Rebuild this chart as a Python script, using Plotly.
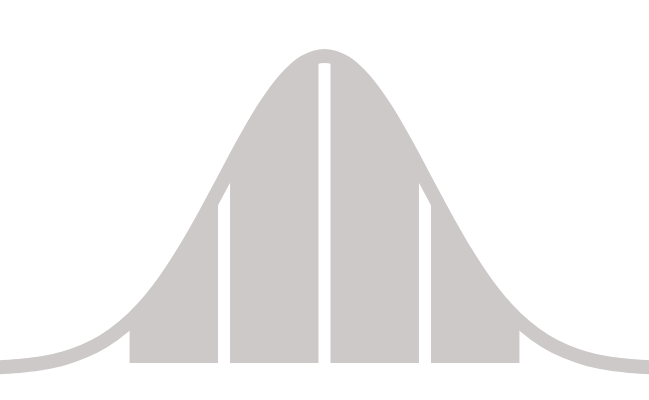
import plotly.graph_objects as go

# bell curve: z position and height of the outline (px above the fill base)
z = [-3.4, -3.2, -3.0, -2.8, -2.6, -2.4, -2.2, -2.0, -1.8, -1.6, -1.4, -1.2, -1.0, -0.8, -0.6, -0.4, -0.2,
     0.0, 0.2, 0.4, 0.6, 0.8, 1.0, 1.2, 1.4, 1.6, 1.8, 2.0, 2.2, 2.4, 2.6, 2.8, 3.0, 3.2, 3.4]
height = [-5.0, -4.1, -2.5, 0.2, 4.6, 11.6, 21.8, 36.4, 55.9, 81.0, 111.5, 146.4, 183.8, 221.3, 255.4, 282.9, 300.8,
          307.0, 300.8, 282.9, 255.4, 221.3, 183.8, 146.4, 111.5, 81.0, 55.9, 36.4, 21.8, 11.6, 4.6, 0.2, -2.5, -4.1, -5.0]

# shaded band edges (standard deviations)
bands = [-2, -1, 0, 1, 2]

grey = '#ccc9c8'

fig = go.Figure()

# filled area between -2 and +2
inner = [i for i, v in enumerate(z) if bands[0] <= v <= bands[-1]]
fig.add_trace(go.Scatter(x=[z[i] for i in inner], y=[height[i] for i in inner], mode='lines',
                         line=dict(color=grey, width=0, shape='spline'), fill='tozeroy', fillcolor=grey,
                         hoverinfo='skip'))

# white gaps at each band edge
for b in bands:
    top = height[z.index(b)]
    fig.add_trace(go.Scatter(x=[b, b], y=[-20, top], mode='lines', line=dict(color='white', width=12),
                             hoverinfo='skip'))

# thick outline of the whole curve
fig.add_trace(go.Scatter(x=z, y=height, mode='lines', line=dict(color=grey, width=14, shape='spline'),
                         hoverinfo='skip'))

fig.update_layout(
    width=649, height=400,
    margin=dict(l=0, r=0, t=0, b=0),
    paper_bgcolor='white', plot_bgcolor='white',
    showlegend=False,
    xaxis=dict(range=[-3.23, 3.23], visible=False, fixedrange=True),
    yaxis=dict(range=[-37, 363], visible=False, fixedrange=True),
)

# drop the default page margin so the figure sits at the window corner
fig.write_html("out.html", config={'displayModeBar': False},
               post_script="document.body.style.margin='0';")
